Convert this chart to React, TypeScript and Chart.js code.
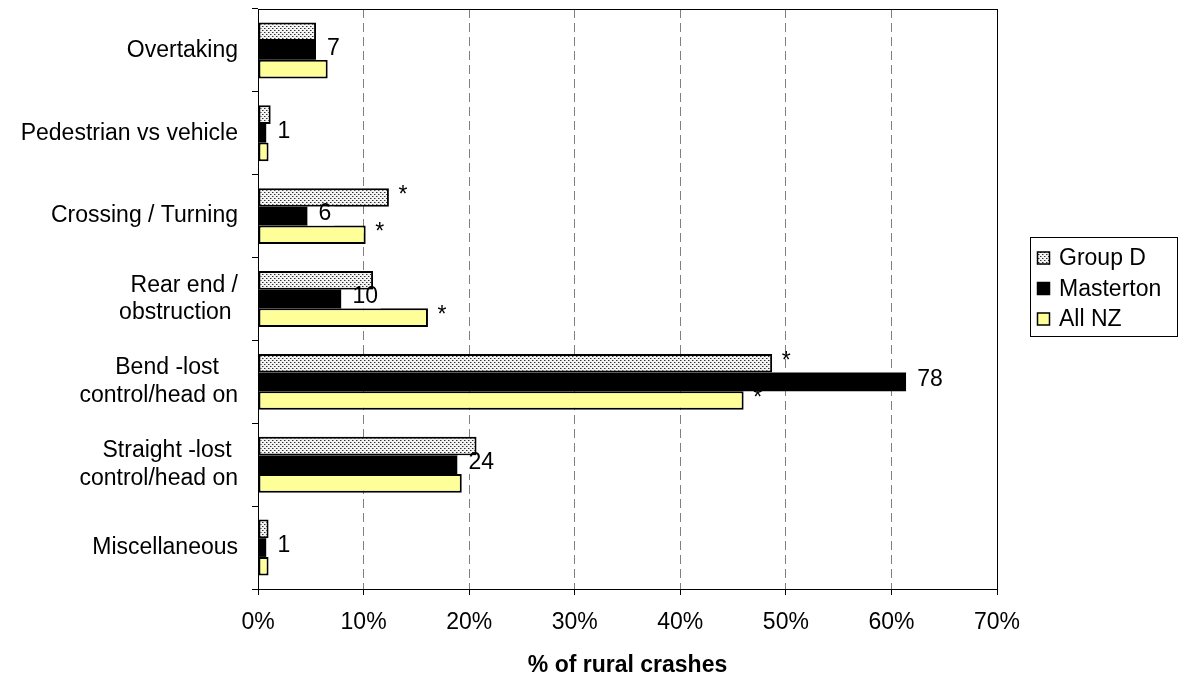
import React, { useEffect, useRef } from 'react';
import { Chart, registerables } from 'chart.js';

Chart.register(...registerables);

const FONT = '"Liberation Sans", Arial, Helvetica, sans-serif';
const FS = 23;

const categories: (string | string[])[] = [
  'Overtaking',
  'Pedestrian vs vehicle',
  'Crossing / Turning',
  ['Rear end /', 'obstruction '],
  ['Bend -lost   ', 'control/head on'],
  ['Straight -lost ', 'control/head on'],
  'Miscellaneous',
];

const seriesNames = ['Group D', 'Masterton', 'All NZ'];

// % of rural crashes
const groupD = [5.5, 1.2, 12.4, 10.9, 48.7, 20.7, 1.0];
const masterton = [5.5, 0.8, 4.7, 7.9, 61.4, 18.9, 0.8];
const allNZ = [6.6, 1.0, 10.2, 16.1, 46.0, 19.3, 1.0];

// crash counts shown next to Masterton bars
const mastertonCounts = ['7', '1', '6', '10', '78', '24', '1'];
// significance markers
const groupDFlags = ['', '', '*', '', '*', '', ''];
const allNZFlags = ['', '', '*', '*', '*', '', ''];

const xTicks = [0, 10, 20, 30, 40, 50, 60, 70];
const xTitle = '% of rural crashes';

function makePattern(): CanvasPattern | string {
  const c = document.createElement('canvas');
  c.width = 4;
  c.height = 4;
  const g = c.getContext('2d');
  if (!g) return '#c8c8c8';
  g.fillStyle = '#f4f4f4';
  g.fillRect(0, 0, 4, 4);
  g.fillStyle = '#303030';
  g.fillRect(0, 0, 1, 1);
  g.fillRect(2, 2, 1, 1);
  g.fillStyle = '#999999';
  g.fillRect(1, 0, 1, 1);
  g.fillRect(3, 2, 1, 1);
  const p = g.createPattern(c, 'repeat');
  return p || '#c8c8c8';
}

const frameAndLabels = {
  id: 'frameAndLabels',
  afterDatasetsDraw(chart: any) {
    const ctx = chart.ctx as CanvasRenderingContext2D;
    const a = chart.chartArea;
    ctx.save();
    // plot frame
    ctx.strokeStyle = '#000';
    ctx.lineWidth = 1;
    ctx.setLineDash([]);
    ctx.strokeRect(Math.round(a.left) + 0.5, Math.round(a.top) + 0.5, Math.round(a.right - a.left), Math.round(a.bottom - a.top));

    ctx.font = `${FS}px ${FONT}`;
    ctx.textBaseline = 'middle';
    // Masterton counts with white box
    const mMeta = chart.getDatasetMeta(1);
    mMeta.data.forEach((bar: any, i: number) => {
      const txt = mastertonCounts[i];
      const w = ctx.measureText(txt).width;
      const h = bar.height;
      ctx.fillStyle = '#fff';
      ctx.fillRect(bar.x, bar.y - h / 2, 11 + w + 3, h);
      ctx.fillStyle = '#000';
      ctx.textAlign = 'left';
      ctx.fillText(txt, bar.x + 11, bar.y - 2);
    });
    // stars
    const flagSets: [number, string[]][] = [
      [0, groupDFlags],
      [2, allNZFlags],
    ];
    flagSets.forEach(([di, flags]) => {
      const meta = chart.getDatasetMeta(di);
      meta.data.forEach((bar: any, i: number) => {
        if (!flags[i]) return;
        ctx.fillStyle = '#000';
        ctx.textAlign = 'center';
        ctx.fillText(flags[i], bar.x + 14, bar.y - 2);
      });
    });
    ctx.restore();
  },
  afterDraw(chart: any) {
    const ctx = chart.ctx as CanvasRenderingContext2D;
    const a = chart.chartArea;
    const lx = Math.round(a.right) + 33;
    const ly = 237;
    const lw = 147;
    const lh = 99;
    ctx.save();
    ctx.fillStyle = '#fff';
    ctx.fillRect(lx, ly, lw, lh);
    ctx.strokeStyle = '#000';
    ctx.lineWidth = 1;
    ctx.strokeRect(lx + 0.5, ly + 0.5, lw, lh);
    ctx.font = `${FS}px ${FONT}`;
    ctx.textBaseline = 'middle';
    ctx.textAlign = 'left';
    const ds = chart.data.datasets;
    seriesNames.forEach((name, i) => {
      const cy = ly + 21 + i * 30.5;
      const d = ds[i];
      ctx.fillStyle = d.backgroundColor;
      ctx.fillRect(lx + 7, cy - 6.5, 13, 13);
      ctx.strokeStyle = '#000';
      ctx.lineWidth = 1.5;
      ctx.strokeRect(lx + 7.5, cy - 6, 12, 12);
      ctx.fillStyle = '#000';
      ctx.fillText(name, lx + 29, cy + 1);
    });
    ctx.restore();
  },
};

export default function App() {
  const ref = useRef<HTMLCanvasElement | null>(null);

  useEffect(() => {
    const canvas = ref.current;
    if (!canvas) return;
    const pattern = makePattern();
    const chart = new Chart(canvas, {
      type: 'bar',
      data: {
        labels: categories as any,
        datasets: [
          {
            label: seriesNames[0],
            data: groupD,
            backgroundColor: pattern as any,
            borderColor: '#000',
            borderWidth: 2,
            borderSkipped: false,
          },
          {
            label: seriesNames[1],
            data: masterton,
            backgroundColor: '#000',
            borderColor: '#000',
            borderWidth: 0,
            borderSkipped: false,
          },
          {
            label: seriesNames[2],
            data: allNZ,
            backgroundColor: '#ffff99',
            borderColor: '#000',
            borderWidth: 2,
            borderSkipped: false,
          },
        ],
      },
      options: {
        indexAxis: 'y',
        animation: false,
        responsive: false,
        devicePixelRatio: 1,
        categoryPercentage: 0.675,
        barPercentage: 1.0,
        layout: { padding: { top: 9, right: 183, left: 0, bottom: 0 } },
        plugins: {
          legend: { display: false },
          tooltip: { enabled: false },
        },
        scales: {
          x: {
            type: 'linear',
            min: 0,
            max: 70,
            afterBuildTicks: (scale: any) => {
              scale.ticks = xTicks.map((v) => ({ value: v }));
            },
            afterFit: (scale: any) => {
              scale.height = 91;
              scale.paddingLeft = 0;
              scale.paddingRight = 0;
            },
            ticks: {
              callback: (v: any) => `${v}%`,
              color: '#000',
              font: { family: FONT, size: FS },
              padding: 14,
              maxRotation: 0,
            },
            grid: {
              color: '#808080',
              lineWidth: 1,
              drawTicks: true,
              tickLength: 6,
              tickColor: '#000',
              tickBorderDash: [],
            } as any,
            border: { display: true, color: '#000', width: 1, dash: [9, 5] } as any,
            title: {
              display: true,
              text: xTitle,
              color: '#000',
              font: { family: FONT, size: FS, weight: 'bold' },
              padding: { top: 0, bottom: 1 },
            },
          },
          y: {
            type: 'category',
            offset: true,
            afterFit: (scale: any) => {
              scale.width = 258;
              scale.paddingTop = 0;
              scale.paddingBottom = 0;
            },
            ticks: {
              autoSkip: false,
              color: '#000',
              font: { family: FONT, size: FS, lineHeight: 1.2 },
              padding: 14,
            },
            grid: {
              offset: true,
              drawOnChartArea: false,
              drawTicks: true,
              tickLength: 6,
              color: '#000',
              tickColor: '#000',
            },
            border: { display: true, color: '#000', width: 1 },
          },
        },
      } as any,
      plugins: [frameAndLabels],
    });
    return () => chart.destroy();
  }, []);

  return (
    <div style={{ position: 'absolute', left: 0, top: 0, width: 1180, height: 680, background: '#fff' }}>
      <canvas ref={ref} width={1180} height={680} style={{ display: 'block' }} />
    </div>
  );
}
